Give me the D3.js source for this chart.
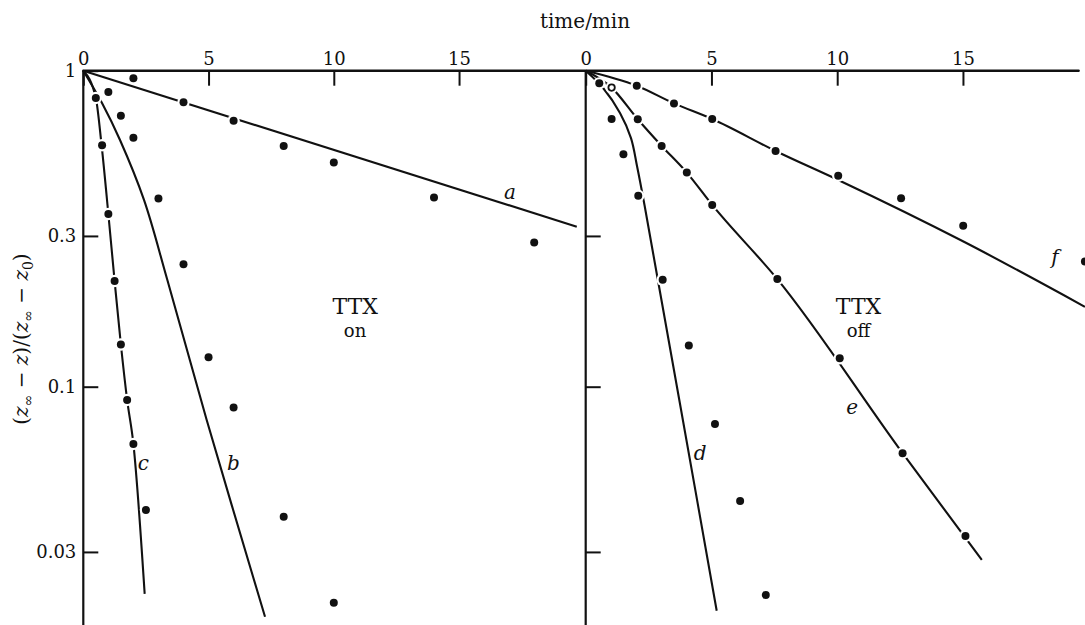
<!DOCTYPE html>
<html>
<head>
<meta charset="utf-8">
<script src="https://cdn.jsdelivr.net/npm/d3@7"></script>
<style>
  body { margin: 0; background: #fff; }
  svg { display: block; }
  text { font-family: "DejaVu Serif", serif; fill: #111; }
</style>
</head>
<body>
<svg id="chart" width="1085" height="625"></svg>
<script>
// tick values
const xTicks = [0, 5, 10, 15];
const yTicks = [1, 0.3, 0.1, 0.03];
const yTickLabels = ["1", "0.3", "0.1", "0.03"];

// TTX on (left panel) -- measured points
const aTime = [2, 4, 6, 8, 10, 14, 18];
const aVal  = [0.946, 0.794, 0.695, 0.578, 0.512, 0.397, 0.286];
const bTime = [1, 1.5, 2, 3, 4, 5, 6, 8, 10];
const bVal  = [0.856, 0.72, 0.614, 0.394, 0.244, 0.124, 0.086, 0.0388, 0.0207];
const cTime = [0.5, 0.75, 1, 1.25, 1.5, 1.75, 2, 2.5];
const cVal  = [0.82, 0.581, 0.352, 0.216, 0.136, 0.0908, 0.0659, 0.0407];

// TTX off (right panel) -- measured points
const dTime = [0.54, 1.03, 1.5, 2.09, 3.06, 4.1, 5.14, 6.14, 7.16];
const dVal  = [0.912, 0.703, 0.544, 0.402, 0.218, 0.135, 0.0762, 0.0435, 0.0219];
const eTime = [1.03, 2.07, 3.02, 4.02, 5.03, 7.62, 10.1, 12.6, 15.1];
const eVal  = [0.884, 0.702, 0.578, 0.476, 0.376, 0.219, 0.123, 0.0616, 0.0337];
const fTime = [2.03, 3.51, 5.03, 7.55, 10.04, 12.54, 15.01, 19.85];
const fVal  = [0.896, 0.788, 0.703, 0.557, 0.465, 0.395, 0.323, 0.249];

// fitted curves as (time, value) nodes
const aCurve = [[0, 1], [19.7, 0.321]];
const bCurve = [[0, 1], [0.747, 0.79], [1.465, 0.6035], [2.423, 0.39], [3.353, 0.218], [4.926, 0.0785], [7.254, 0.0187]];
const cCurve = [[0, 1], [0.5, 0.82], [0.73, 0.581], [1, 0.352], [1.25, 0.216], [1.5, 0.136], [1.75, 0.0908], [2, 0.0659], [2.45, 0.0221]];
const dCurve = [[0, 1], [0.7, 0.88], [1.364, 0.735], [1.801, 0.612], [2.04, 0.4994], [2.338, 0.3758], [2.847, 0.2229], [3.722, 0.0908], [5.209, 0.01955]];
const eCurve = [[0, 1], [1.03, 0.884], [2.07, 0.702], [3.02, 0.578], [4.02, 0.476], [5.03, 0.376], [7.62, 0.219], [12.6, 0.0616], [15.75, 0.0283]];
const fCurve = [[0, 1], [2.03, 0.896], [3.51, 0.788], [5.03, 0.703], [7.55, 0.557], [10.04, 0.451], [15.02, 0.288], [19.85, 0.179]];

const curveNames = ["a", "b", "c", "d", "e", "f"];
const labelAt = [[17.03, 0.414], [5.99, 0.0574], [2.4, 0.0574], [4.55, 0.0615], [10.6, 0.086], [18.66, 0.258]];

const svg = d3.select("#chart");
const ink = "#111";

const xL = d3.scaleLinear().domain([0, 20]).range([83.3, 584.3]);
const xR = d3.scaleLinear().domain([0, 20]).range([585.7, 1088.7]);
const y = d3.scaleLog().domain([1, 0.1]).range([70.7, 386.7]);

// frame: top time axis and the two vertical axes
svg.append("line")
  .attr("x1", xL(0)).attr("x2", xR(19.6))
  .attr("y1", y(1)).attr("y2", y(1))
  .attr("stroke", ink).attr("stroke-width", 2.4).attr("stroke-linecap", "round");
[xL(0), xR(0)].forEach(x0 => {
  svg.append("line")
    .attr("x1", x0).attr("x2", x0).attr("y1", y(1)).attr("y2", 625)
    .attr("stroke", ink).attr("stroke-width", 2.2);
});

function styleAxis(g) {
  g.select(".domain").remove();
  g.selectAll(".tick line").attr("stroke", ink).attr("stroke-width", 2);
  g.selectAll(".tick text").attr("font-size", 18).attr("fill", ink)
    .style("font-family", "'DejaVu Serif', serif");
}

[xL, xR].forEach(sc => {
  svg.append("g")
    .attr("transform", `translate(0,${y(1)})`)
    .call(d3.axisTop(sc).tickValues(xTicks).tickSizeInner(-15).tickSizeOuter(0).tickPadding(6))
    .call(styleAxis);
});

svg.append("g")
  .attr("transform", `translate(${xL(0)},0)`)
  .call(d3.axisLeft(y).tickValues(yTicks)
    .tickFormat((d, i) => yTickLabels[i])
    .tickSizeInner(-15).tickSizeOuter(0).tickPadding(7))
  .call(styleAxis);

svg.append("g")
  .attr("transform", `translate(${xR(0)},0)`)
  .call(d3.axisLeft(y).tickValues(yTicks.slice(1)).tickFormat("")
    .tickSizeInner(-15).tickSizeOuter(0))
  .call(styleAxis);

// fitted lines
const smooth = d3.curveCatmullRom.alpha(0.5);
const curves = [
  { nodes: aCurve, x: xL, curve: d3.curveLinear },
  { nodes: bCurve, x: xL, curve: smooth },
  { nodes: cCurve, x: xL, curve: d3.curveMonotoneX },
  { nodes: dCurve, x: xR, curve: smooth },
  { nodes: eCurve, x: xR, curve: d3.curveMonotoneX },
  { nodes: fCurve, x: xR, curve: d3.curveMonotoneX }
];
curves.forEach(c => {
  const line = d3.line().x(d => c.x(d[0])).y(d => y(d[1])).curve(c.curve);
  svg.append("path").attr("d", line(c.nodes))
    .attr("fill", "none").attr("stroke", ink).attr("stroke-width", 2.1);
});

// measured points (a white halo breaks the line round each dot)
const sets = [
  { t: aTime, v: aVal, x: xL }, { t: bTime, v: bVal, x: xL }, { t: cTime, v: cVal, x: xL },
  { t: dTime, v: dVal, x: xR }, { t: eTime, v: eVal, x: xR }, { t: fTime, v: fVal, x: xR }
];
const pts = [];
sets.forEach((s, k) => s.t.forEach((t, i) => pts.push({ x: s.x(t), y: y(s.v[i]), open: k === 4 && i === 0 })));

svg.append("g").selectAll("circle").data(pts).join("circle")
  .attr("cx", d => d.x).attr("cy", d => d.y).attr("r", 6.2).attr("fill", "#fff");
svg.append("g").selectAll("circle").data(pts).join("circle")
  .attr("cx", d => d.x).attr("cy", d => d.y).attr("r", d => d.open ? 3.2 : 4)
  .attr("fill", d => d.open ? "#fff" : ink)
  .attr("stroke", d => d.open ? ink : "none").attr("stroke-width", 1.8);

// curve letters
curveNames.forEach((n, i) => {
  const sc = i < 3 ? xL : xR;
  svg.append("text").attr("x", sc(labelAt[i][0])).attr("y", y(labelAt[i][1]))
    .attr("text-anchor", "middle").attr("dy", "0.35em")
    .attr("font-size", 20).attr("font-style", "italic").text(n);
});

// panel captions
[[xL, "on"], [xR, "off"]].forEach(([sc, word]) => {
  const cx = sc(10.85);
  svg.append("text").attr("x", cx).attr("y", 314).attr("text-anchor", "middle")
    .attr("font-size", 22).text("TTX");
  svg.append("text").attr("x", cx).attr("y", 337).attr("text-anchor", "middle")
    .attr("font-size", 18).text(word);
});

// axis titles
svg.append("text").attr("x", 585).attr("y", 28).attr("text-anchor", "middle")
  .attr("font-size", 20).text("time/min");

const yt = svg.append("text")
  .attr("transform", "translate(28,339) rotate(-90)")
  .attr("text-anchor", "middle").attr("font-size", 20);
[["(", 0, 0], ["z", 1, 0], ["\u221e", 0, 1], [" \u2212 ", 0, 0], ["z", 1, 0], [")/(", 0, 0],
 ["z", 1, 0], ["\u221e", 0, 1], [" \u2212 ", 0, 0], ["z", 1, 0], ["0", 0, 1], [")", 0, 0]]
  .forEach(([s, it, sub], i, arr) => {
    const ts = yt.append("tspan").text(s);
    if (it) ts.attr("font-style", "italic");
    if (sub) ts.attr("font-size", 14).attr("dy", 5);
    else if (i > 0 && arr[i - 1][2]) ts.attr("dy", -5);
  });
</script>
</body>
</html>
